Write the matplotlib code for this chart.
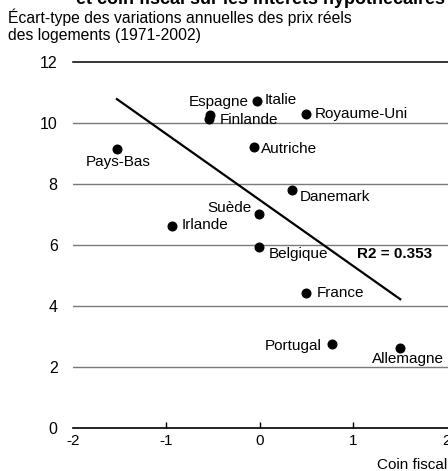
import matplotlib
matplotlib.use("Agg")
import matplotlib.pyplot as plt

plt.rcParams['font.family'] = ['Liberation Sans', 'DejaVu Sans']

countries = ["Pays-Bas", "Espagne", "Finlande", "Italie", "Royaume-Uni", "Autriche",
             "Danemark", "Suède", "Irlande", "Belgique", "France", "Portugal", "Allemagne"]
coin_fiscal = [-1.53, -0.53, -0.55, -0.03, 0.49, -0.06, 0.34, -0.01, -0.94, -0.01, 0.49, 0.77, 1.50]
ecart_type = [9.15, 10.26, 10.13, 10.72, 10.29, 9.22, 7.81, 7.03, 6.63, 5.92, 4.41, 2.75, 2.61]

fit_x = [-1.53, 1.50]
fit_slope = -2.165
fit_intercept = 7.47
r2_text = "R2 = 0.353"

x_ticks = [-2, -1, 0, 1, 2]
y_ticks = [0, 2, 4, 6, 8, 10, 12]

title = "et coin fiscal sur les intérêts hypothécaires"
ylabel = "Écart-type des variations annuelles des prix réels\ndes logements (1971-2002)"
xlabel = "Coin fiscal"

# label offsets in pixels (dx, dy) and alignment
label_style = {
    "Pays-Bas": (1, -13, "center"),
    "Espagne": (38, 13, "right"),
    "Finlande": (11, -1, "left"),
    "Italie": (7, 1, "left"),
    "Royaume-Uni": (9, 0, "left"),
    "Autriche": (7, -2, "left"),
    "Danemark": (8, -7, "left"),
    "Suède": (-7, 6, "right"),
    "Irlande": (10, 1, "left"),
    "Belgique": (10, -7, "left"),
    "France": (11, 0, "left"),
    "Portugal": (-10, -2, "right"),
    "Allemagne": (8, -11, "center"),
}

W, H = 448, 471
fig = plt.figure(figsize=(W / 100, H / 100), dpi=100)
ax = fig.add_axes([73 / W, (H - 428) / H, 375 / W, 366 / H])
ax.set_xlim(-2, 2.011)
ax.set_ylim(0, 12)

for s in ["left", "right", "top"]:
    ax.spines[s].set_visible(False)
ax.spines["bottom"].set_color("black")
ax.spines["bottom"].set_linewidth(1.2)

for yv in y_ticks[1:-1]:
    ax.axhline(yv, color="#7a7a7a", lw=1.0, zorder=1)
ax.axhline(12, color="black", lw=1.1, zorder=1, clip_on=False)

ax.set_xticks(x_ticks)
ax.set_xticklabels([str(v) for v in x_ticks])
ax.set_yticks(y_ticks)
ax.set_yticklabels([str(v) for v in y_ticks])
ax.tick_params(axis="x", direction="in", length=4, width=1, pad=4, labelsize=11)
ax.tick_params(axis="y", length=0, pad=11, labelsize=11.5)
xt = ax.xaxis.get_major_ticks()
for t in (xt[0], xt[-1]):
    t.tick1line.set_visible(False)

ax.plot(coin_fiscal, ecart_type, "o", color="black", ms=6.2, zorder=3, clip_on=False)

fit_y = [fit_intercept + fit_slope * v for v in fit_x]
ax.plot(fit_x, fit_y, color="black", lw=1.6, zorder=2)

for name, xv, yv in zip(countries, coin_fiscal, ecart_type):
    dx, dy, ha = label_style[name]
    ax.annotate(name, (xv, yv), xytext=(dx, dy), textcoords="offset pixels",
                ha=ha, va="center", fontsize=11, zorder=4)

ax.text(1.04, 5.69, r2_text, fontsize=11, fontweight="bold", va="center", ha="left")

fig.text(76 / W, 1 - 4.5 / H, title, fontsize=13, fontweight="bold", ha="left", va="baseline")
fig.text(8 / W, 1 - 8 / H, ylabel, fontsize=11.3, ha="left", va="top", linespacing=1.2)
fig.text(447 / W, 1 - 465 / H, xlabel, fontsize=11, ha="right", va="center")

fig.savefig("out.png", dpi=100)
